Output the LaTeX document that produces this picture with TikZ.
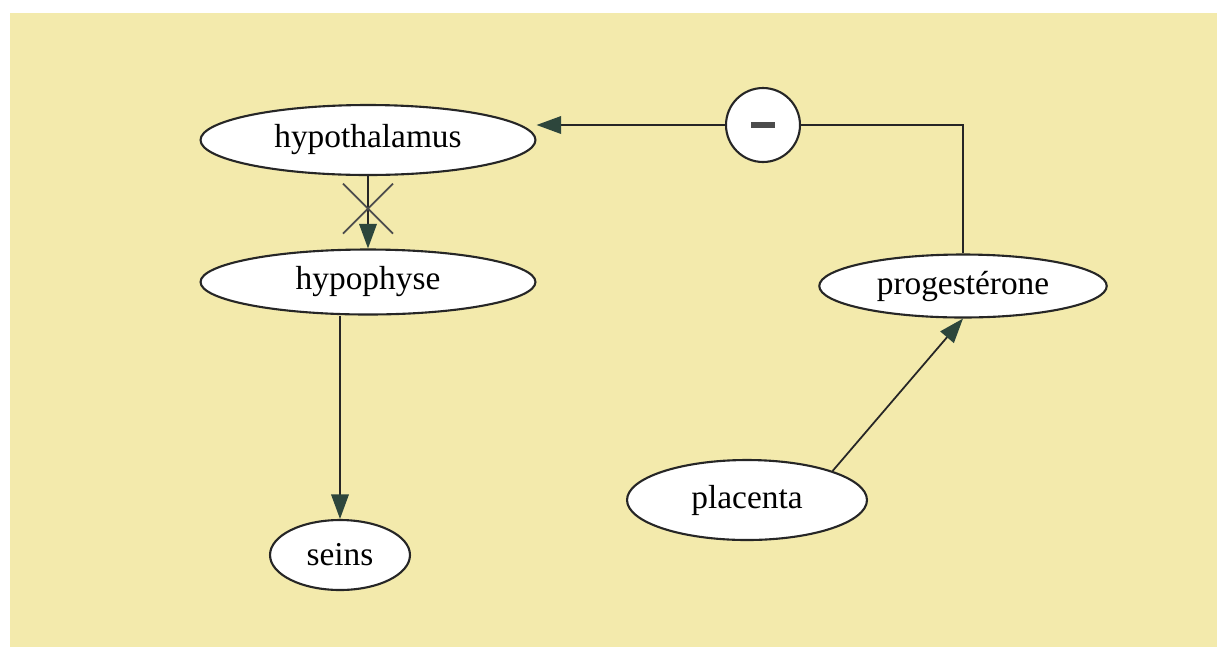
\documentclass[tikz,border=0pt]{standalone}
\usepackage{fontspec}
\setmainfont{Liberation Serif}
\usepackage{tikz}
\usetikzlibrary{shapes.geometric,arrows.meta}
\definecolor{fondjaune}{RGB}{243,234,172}
\definecolor{pointe}{RGB}{45,70,60}
\tikzset{
  organe/.style={
    ellipse,draw=black!85,line width=1.2pt,fill=white,
    inner sep=0pt,font=\fontsize{19}{22}\selectfont,
  },
  fleche/.style={
    draw=black!85,line width=1pt,
    -{Triangle[length=14pt,width=10pt,fill=pointe,color=pointe]},
  },
  lien/.style={draw=black!85,line width=1pt},
}

\begin{document}
\begin{tikzpicture}[x=0.02cm,y=-0.02cm]
      \useasboundingbox (0,0) rectangle (1217,647);
      \fill [fondjaune] (10,13) rectangle (1217,647);

      \node (hypothalamus) [organe,minimum width=6.7cm,minimum height=1.4cm]
      at (368,140) {hypothalamus};
      \node (hypophyse) [organe,minimum width=6.7cm,minimum height=1.3cm]
      at (368,282) {hypophyse};
      \node (seins) [organe,minimum width=2.8cm,minimum height=1.4cm]
      at (340,555) {seins};
      \node (placenta) [organe,minimum width=4.8cm,minimum height=1.6cm]
      at (747,500) {placenta};
      \node (progesterone) [organe,minimum width=5.75cm,minimum height=1.26cm]
      at (963,286) {progestérone};
      \node (moins) [circle,draw=black!85,line width=1.2pt,fill=white,
      minimum size=1.48cm,inner sep=0pt] at (763,125)
      {\color{black!70}\rule[-0.05cm]{0.48cm}{0.13cm}};

      \draw [fleche] (hypothalamus) -- coordinate[pos=0.45] (croix)
      (hypophyse);
      \draw [lien,black!70] (croix) ++(-25,-25) -- ++(50,50);
      \draw [lien,black!70] (croix) ++(-25,25) -- ++(50,-50);

      \draw [fleche] (hypophyse.south -| seins.north) -- (seins.north);
      \draw [fleche] (placenta.north east) -- (progesterone.south);

      \draw [lien] (progesterone.north) |- (moins.east);
      \draw [fleche] (moins.west) -- (hypothalamus.east |- moins.west);
\end{tikzpicture}
\end{document}
